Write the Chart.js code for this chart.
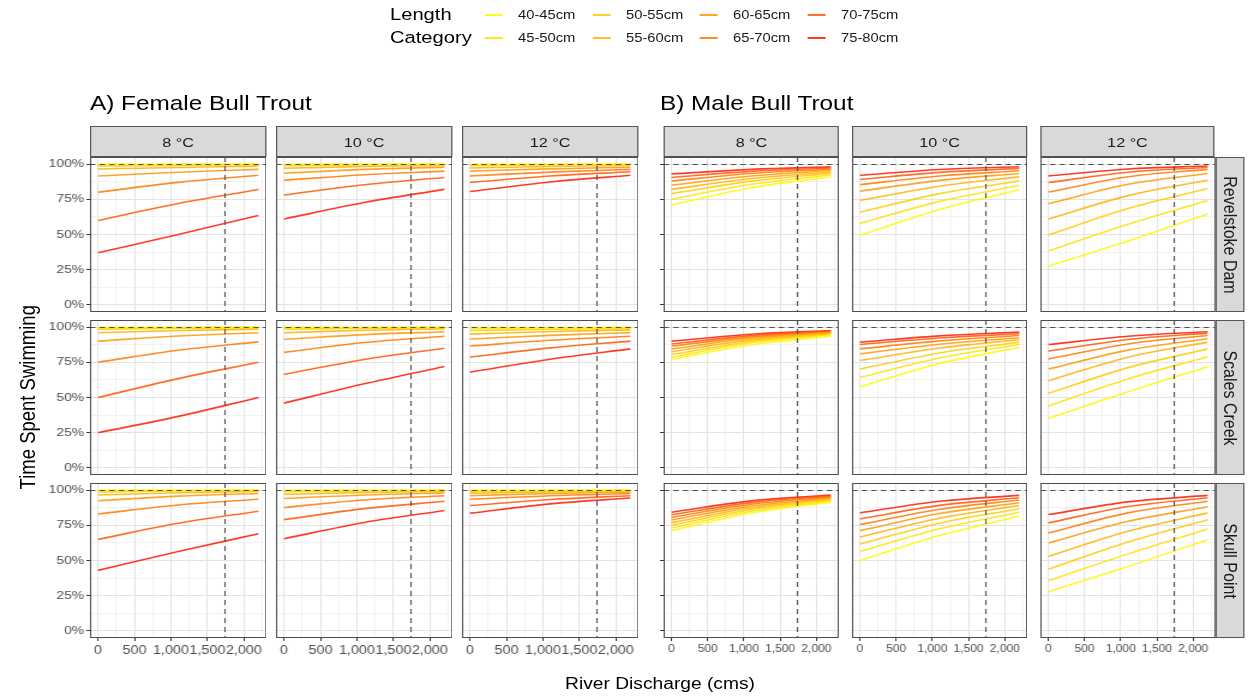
<!DOCTYPE html>
<html><head><meta charset="utf-8">
<script src="https://cdn.jsdelivr.net/npm/chart.js@4.4.0/dist/chart.umd.min.js"></script>
<style>
html,body{margin:0;padding:0;background:#fff;width:1248px;height:698px;overflow:hidden;font-family:"Liberation Sans",Arial,sans-serif;}
#fig{position:absolute;left:0;top:0;width:1040px;height:698px;transform:scaleX(1.2);transform-origin:0 0;}
.t{position:absolute;white-space:nowrap;}
.strip{position:absolute;background:#D9D9D9;border:1px solid #555;box-sizing:border-box;color:#1A1A1A;font-size:13.5px;}
.strip span{position:absolute;left:50%;top:50%;white-space:nowrap;}
canvas{position:absolute;}
</style></head>
<body><div id="fig"></div>
<script>
// ---------- data ----------
const lengthCategories = ['40-45cm','45-50cm','50-55cm','55-60cm','60-65cm','65-70cm','70-75cm','75-80cm'];
const discharge = [0, 1100, 2200];
const temperatures = ['8 °C','10 °C','12 °C'];
const sites = ['Revelstoke Dam','Scales Creek','Skull Point'];
const groups = ['A) Female Bull Trout','B) Male Bull Trout'];
const xTickValues = [0, 500, 1000, 1500, 2000];
const yTickValues = [0, 0.25, 0.5, 0.75, 1];
const meanDischarge = 1730;
const fullSwimming = 1;

// proportion of time swimming, one row per length category, values at discharge 0/1100/2200
const femaleRevelstoke8 = [[0.998,0.999,0.999],[0.995,0.997,0.998],[0.985,0.990,0.994],[0.965,0.976,0.985],[0.915,0.942,0.962],[0.800,0.870,0.920],[0.600,0.720,0.820],[0.370,0.500,0.635]];
const femaleRevelstoke10 = [[0.998,0.999,0.999],[0.995,0.997,0.998],[0.988,0.993,0.996],[0.970,0.983,0.990],[0.935,0.962,0.978],[0.885,0.924,0.950],[0.780,0.853,0.905],[0.610,0.727,0.820]];
const femaleRevelstoke12 = [[0.998,0.999,0.999],[0.995,0.997,0.998],[0.988,0.993,0.996],[0.972,0.983,0.990],[0.950,0.966,0.977],[0.915,0.943,0.962],[0.870,0.915,0.945],[0.805,0.873,0.920]];
const femaleScales8 = [[0.998,0.999,0.9995],[0.995,0.997,0.998],[0.985,0.991,0.995],[0.960,0.975,0.985],[0.900,0.936,0.960],[0.750,0.835,0.895],[0.500,0.634,0.750],[0.250,0.366,0.500]];
const femaleScales10 = [[0.998,0.999,0.999],[0.995,0.997,0.998],[0.985,0.991,0.995],[0.960,0.977,0.987],[0.912,0.946,0.967],[0.820,0.890,0.935],[0.665,0.770,0.850],[0.460,0.597,0.720]];
const femaleScales12 = [[0.996,0.997,0.998],[0.990,0.994,0.996],[0.975,0.984,0.990],[0.950,0.968,0.980],[0.915,0.941,0.960],[0.865,0.906,0.935],[0.787,0.852,0.900],[0.680,0.772,0.845]];
const femaleSkull8 = [[0.998,0.999,0.999],[0.995,0.997,0.998],[0.987,0.993,0.996],[0.965,0.981,0.990],[0.924,0.957,0.976],[0.830,0.894,0.935],[0.650,0.764,0.850],[0.430,0.564,0.690]];
const femaleSkull10 = [[0.998,0.999,0.999],[0.995,0.997,0.998],[0.988,0.993,0.996],[0.970,0.983,0.990],[0.940,0.965,0.980],[0.876,0.929,0.960],[0.790,0.868,0.920],[0.655,0.770,0.855]];
const femaleSkull12 = [[0.998,0.999,0.999],[0.996,0.997,0.998],[0.990,0.994,0.996],[0.978,0.987,0.992],[0.960,0.976,0.985],[0.935,0.960,0.975],[0.890,0.933,0.960],[0.836,0.902,0.943]];
const maleRevelstoke8 = [[0.710,0.832,0.910],[0.750,0.856,0.922],[0.790,0.879,0.934],[0.820,0.897,0.944],[0.850,0.915,0.954],[0.880,0.933,0.963],[0.905,0.948,0.972],[0.930,0.962,0.980]];
const maleRevelstoke10 = [[0.495,0.677,0.818],[0.579,0.735,0.849],[0.658,0.790,0.880],[0.742,0.843,0.909],[0.808,0.884,0.933],[0.854,0.915,0.952],[0.890,0.941,0.969],[0.921,0.961,0.981]];
const maleRevelstoke12 = [[0.275,0.454,0.646],[0.383,0.572,0.742],[0.497,0.684,0.826],[0.610,0.776,0.885],[0.718,0.856,0.933],[0.801,0.910,0.962],[0.869,0.942,0.976],[0.916,0.965,0.986]];
const maleScales8 = [[0.770,0.874,0.935],[0.785,0.888,0.945],[0.805,0.898,0.950],[0.825,0.909,0.955],[0.845,0.920,0.960],[0.865,0.930,0.965],[0.880,0.939,0.970],[0.900,0.949,0.975]];
const maleScales10 = [[0.576,0.741,0.857],[0.643,0.781,0.876],[0.702,0.816,0.893],[0.762,0.851,0.910],[0.810,0.878,0.924],[0.845,0.902,0.940],[0.876,0.922,0.952],[0.893,0.937,0.964]];
const maleScales12 = [[0.352,0.541,0.719],[0.440,0.632,0.790],[0.529,0.712,0.845],[0.619,0.786,0.893],[0.702,0.836,0.917],[0.774,0.880,0.940],[0.829,0.912,0.957],[0.876,0.935,0.967]];
const maleSkull8 = [[0.712,0.837,0.914],[0.731,0.849,0.921],[0.750,0.862,0.929],[0.769,0.874,0.936],[0.788,0.887,0.943],[0.806,0.899,0.950],[0.825,0.911,0.957],[0.843,0.923,0.964]];
const maleSkull10 = [[0.500,0.677,0.814],[0.564,0.725,0.843],[0.617,0.765,0.867],[0.667,0.800,0.890],[0.712,0.833,0.910],[0.755,0.864,0.929],[0.795,0.891,0.945],[0.838,0.920,0.962]];
const maleSkull12 = [[0.279,0.458,0.648],[0.357,0.547,0.724],[0.438,0.631,0.790],[0.529,0.707,0.838],[0.624,0.778,0.881],[0.695,0.838,0.921],[0.767,0.883,0.945],[0.826,0.916,0.962]];

const panelData = [
  [[femaleRevelstoke8, femaleRevelstoke10, femaleRevelstoke12],
   [femaleScales8, femaleScales10, femaleScales12],
   [femaleSkull8, femaleSkull10, femaleSkull12]],
  [[maleRevelstoke8, maleRevelstoke10, maleRevelstoke12],
   [maleScales8, maleScales10, maleScales12],
   [maleSkull8, maleSkull10, maleSkull12]]
];

// ---------- style / layout ----------
const lengthColors = ['rgba(255,248,0,0.85)','rgba(255,226,0,0.85)','rgba(255,203,0,0.85)','rgba(255,178,0,0.85)',
                      'rgba(255,150,0,0.85)','rgba(255,120,0,0.85)','rgba(255,86,0,0.85)','rgba(255,25,0,0.85)'];
const S = 1.2;                      // horizontal stretch of the figure
const fig = document.getElementById('fig');
const X = v => v / S;
const panelLefts = [[90, 276, 462], [664, 852, 1040]];
const panelWidths = [176, 175];
const tickFont = [12, 10];
const rowTops = [157, 320, 483];
const panelH = 155;
const stripTop = 126, stripH = 31;
const YW = 40, XH = 26;
const FONT = '"Liberation Sans", Arial, sans-serif';

function text(str, x, y, size, color, extra) {
  const d = document.createElement('div');
  d.className = 't';
  d.textContent = str;
  d.style.left = X(x) + 'px';
  d.style.top = (y - size / 2) + 'px';
  d.style.fontSize = size + 'px';
  d.style.lineHeight = size + 'px';
  d.style.color = color || '#000';
  if (extra) Object.assign(d.style, extra);
  fig.appendChild(d);
  return d;
}

// legend
text('Length', 390, 15, 16.8, '#000');
text('Category', 390, 38, 16.8, '#000');
const keyX = [485, 593, 700, 808];
lengthCategories.forEach((c, i) => {
  const col = Math.floor(i / 2), row = i % 2;
  const y = row === 0 ? 15 : 38;
  const k = document.createElement('div');
  k.style.position = 'absolute';
  k.style.left = X(keyX[col]) + 'px';
  k.style.top = (y - 1) + 'px';
  k.style.width = X(18) + 'px';
  k.style.height = '2px';
  k.style.background = lengthColors[i];
  fig.appendChild(k);
  text(c, keyX[col] + 33, y, 12.3, '#1A1A1A');
});

// group titles
text(groups[0], 90, 103, 20.3, '#000');
text(groups[1], 660, 103, 20.3, '#000');

// axis titles
text('Time Spent Swimming', 28, 397, 18.5, '#000', {transform: 'translate(-50%,0) rotate(-90deg)', transformOrigin: '50% 50%'});
text('River Discharge (cms)', 660, 684, 16, '#000', {transform: 'translate(-50%,0)'});

// strips
function strip(x, y, w, h, label, rot, size) {
  const d = document.createElement('div');
  d.className = 'strip';
  d.style.left = X(x) + 'px'; d.style.top = y + 'px';
  d.style.width = X(w) + 'px'; d.style.height = h + 'px';
  const s = document.createElement('span');
  s.textContent = label;
  s.style.fontSize = size + 'px';
  s.style.transform = 'translate(-50%,-50%)' + (rot ? ' rotate(90deg)' : '');
  d.appendChild(s);
  fig.appendChild(d);
}
for (let g = 0; g < 2; g++)
  for (let c = 0; c < 3; c++)
    strip(panelLefts[g][c], stripTop, panelWidths[g], stripH, temperatures[c], false, 13.5);
for (let r = 0; r < 3; r++) strip(1216, rowTops[r], 29, panelH, sites[r], true, 16);

// ---------- charts ----------
const xGrid = []; for (let v = 0; v <= 2250; v += 250) xGrid.push(v);
const yGrid = []; for (let v = 0; v <= 1.0001; v += 0.125) yGrid.push(+v.toFixed(3));
const isMajorX = v => xTickValues.includes(v);
const isMajorY = v => yTickValues.some(t => Math.abs(t - v) < 1e-6);

const panelDeco = {
  id: 'panelDeco',
  afterDatasetsDraw(chart) {
    const {ctx, chartArea: a, scales: {x, y}} = chart;
    ctx.save();
    ctx.strokeStyle = '#505050'; ctx.lineWidth = 1.1;
    ctx.setLineDash([4.5, 3.5]);
    const yy = Math.round(y.getPixelForValue(fullSwimming)) + 0.5;
    ctx.beginPath(); ctx.moveTo(a.left, yy); ctx.lineTo(a.right, yy); ctx.stroke();
    ctx.setLineDash([5, 4]);
    const xx = Math.round(x.getPixelForValue(meanDischarge)) + 0.5;
    ctx.beginPath(); ctx.moveTo(xx, a.top); ctx.lineTo(xx, a.bottom); ctx.stroke();
    ctx.setLineDash([]);
    ctx.lineWidth = 1;
    ctx.strokeStyle = '#4d4d4d';
    ctx.strokeRect(a.left + 0.5, a.top + 0.5, a.right - a.left - 1, a.bottom - a.top - 1);
    ctx.restore();
  }
};

function makePanel(g, r, c) {
  const pl = panelLefts[g][c], pw = panelWidths[g];
  const w = Math.round(X(pw) + YW), h = panelH + XH;
  const cv = document.createElement('canvas');
  cv.width = w; cv.height = h;
  cv.style.left = (X(pl) - YW) + 'px';
  cv.style.top = rowTops[r] + 'px';
  cv.style.width = w + 'px'; cv.style.height = h + 'px';
  fig.appendChild(cv);
  const showYLab = g === 0 && c === 0, showYTick = c === 0, showX = r === 2;
  const rows = panelData[g][r][c];
  new Chart(cv, {
    type: 'line',
    data: {
      datasets: lengthCategories.map((lab, i) => ({
        label: lab,
        data: discharge.map((d, j) => ({x: d, y: rows[i][j]})),
        borderColor: lengthColors[i],
        borderWidth: 1.6,
        pointRadius: 0,
        cubicInterpolationMode: 'monotone',
        fill: false
      }))
    },
    options: {
      responsive: false, animation: false, devicePixelRatio: 1,
      layout: {padding: 0, autoPadding: false},
      plugins: {legend: {display: false}, tooltip: {enabled: false}},
      scales: {
        x: {
          type: 'linear', min: -110, max: 2310,
          afterBuildTicks: s => { s.ticks = xGrid.map(v => ({value: v})); },
          afterFit: s => { s.height = XH; s.paddingLeft = 0; s.paddingRight = 0; s.paddingTop = 0; s.paddingBottom = 0; },
          border: {display: false},
          grid: {
            color: ctx => (ctx.tick && isMajorX(ctx.tick.value)) ? '#E3E3E3' : '#EFEFEF',
            lineWidth: ctx => (ctx.tick && isMajorX(ctx.tick.value)) ? 1 : 0.8,
            drawTicks: showX, tickLength: 3, tickWidth: 1,
            tickColor: ctx => (ctx.tick && isMajorX(ctx.tick.value)) ? '#333' : 'rgba(0,0,0,0)'
          },
          ticks: {
            display: showX, autoSkip: false, maxRotation: 0, minRotation: 0, padding: 2,
            color: '#4D4D4D', font: {family: FONT, size: tickFont[g]},
            callback: v => isMajorX(v) ? v.toLocaleString('en-US') : ''
          }
        },
        y: {
          type: 'linear', min: -0.05, max: 1.05,
          afterBuildTicks: s => { s.ticks = yGrid.map(v => ({value: v})); },
          afterFit: s => { s.width = YW; s.paddingTop = 0; s.paddingBottom = 0; s.paddingLeft = 0; s.paddingRight = 0; },
          border: {display: false},
          grid: {
            color: ctx => (ctx.tick && isMajorY(ctx.tick.value)) ? '#E3E3E3' : '#EFEFEF',
            lineWidth: ctx => (ctx.tick && isMajorY(ctx.tick.value)) ? 1 : 0.8,
            drawTicks: showYTick, tickLength: 3, tickWidth: 1,
            tickColor: ctx => (ctx.tick && isMajorY(ctx.tick.value)) ? '#333' : 'rgba(0,0,0,0)'
          },
          ticks: {
            display: showYLab, autoSkip: false, padding: 2,
            color: '#4D4D4D', font: {family: FONT, size: 11.5},
            callback: v => isMajorY(v) ? Math.round(v * 100) + '%' : ''
          }
        }
      }
    },
    plugins: [panelDeco]
  });
}
for (let g = 0; g < 2; g++)
  for (let r = 0; r < 3; r++)
    for (let c = 0; c < 3; c++) makePanel(g, r, c);
</script>
</body></html>
